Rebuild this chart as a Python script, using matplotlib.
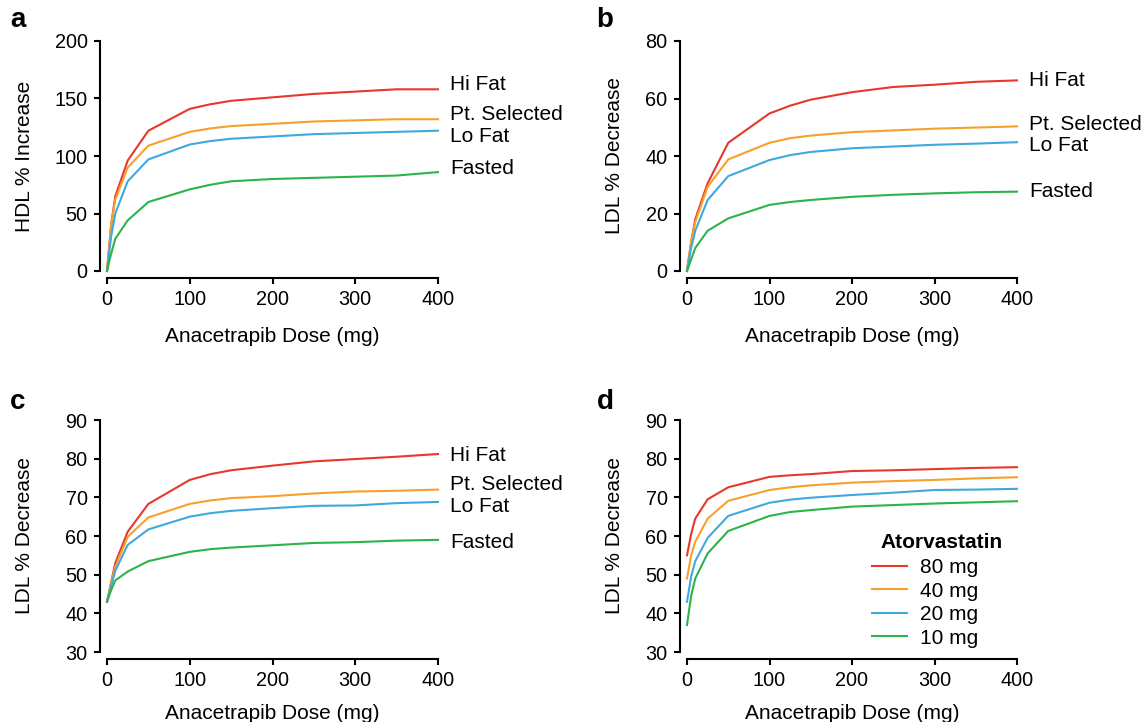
import matplotlib.pyplot as plt

# dose grid (mg)
dose = [0, 5, 10, 25, 50, 100, 125, 150, 200, 250, 300, 350, 400]

# a: HDL % increase
hdl_hi = [0, 40, 65, 96, 122, 141, 145, 148, 151, 154, 156, 158, 158]
hdl_pt = [0, 40, 62, 90, 109, 121, 124, 126, 128, 130, 131, 132, 132]
hdl_lo = [0, 30, 50, 78, 97, 110, 113, 115, 117, 119, 120, 121, 122]
hdl_fa = [0, 15, 28, 44, 60, 71, 75, 78, 80, 81, 82, 83, 86]

# b: LDL % decrease
ldl_hi = [0, 10, 18, 30.5, 44.6, 54.8, 57.5, 59.6, 62.2, 64, 64.8, 65.8, 66.3]
ldl_pt = [0, 10, 17, 29.3, 38.8, 44.6, 46.2, 47.1, 48.3, 48.9, 49.5, 49.9, 50.3]
ldl_lo = [0, 8, 14, 24.7, 33, 38.6, 40.3, 41.4, 42.7, 43.3, 43.9, 44.3, 44.8]
ldl_fa = [0, 4, 8, 14, 18.3, 23, 24, 24.7, 25.8, 26.5, 27, 27.4, 27.6]

# c: LDL % decrease (with statin baseline)
c_hi = [43, 48, 53, 61.1, 68.3, 74.5, 76, 77, 78.2, 79.3, 79.9, 80.5, 81.2]
c_pt = [43, 48, 52, 59.8, 64.8, 68.3, 69.2, 69.8, 70.3, 71, 71.5, 71.7, 72]
c_lo = [43, 47, 51, 57.7, 61.7, 65, 65.9, 66.5, 67.2, 67.8, 67.9, 68.5, 68.8]
c_fa = [43, 46, 48.5, 50.8, 53.5, 55.9, 56.6, 57, 57.6, 58.2, 58.4, 58.8, 59]

# d: LDL % decrease by atorvastatin dose
d_80 = [55, 60.5, 64.5, 69.5, 72.6, 75.3, 75.7, 76, 76.8, 77, 77.3, 77.6, 77.8]
d_40 = [49, 55, 58.5, 64.5, 69.1, 71.9, 72.6, 73.1, 73.8, 74.2, 74.5, 74.9, 75.2]
d_20 = [43, 49.5, 53.5, 59.5, 65.2, 68.6, 69.4, 69.9, 70.6, 71.2, 71.9, 72, 72.2]
d_10 = [37, 44.5, 49, 55.5, 61.3, 65.2, 66.2, 66.7, 67.6, 68, 68.4, 68.7, 69]

colors = ["#e8372b", "#f7a12b", "#3fa9dd", "#2cb34a"]
diet_labels = ["Hi Fat", "Pt. Selected", "Lo Fat", "Fasted"]
statin_labels = ["80 mg", "40 mg", "20 mg", "10 mg"]

plt.rcParams['font.family'] = ['Liberation Sans', 'DejaVu Sans']
fig = plt.figure(figsize=(11.48, 7.22), dpi=100)

W, H = 1148, 722
FS = 15
TFS = 14.3
top_pos = [(722 - 271) / H, 230 / H]
bot_pos = [(722 - 652) / H, 232 / H]
ax_a = fig.add_axes([107 / W, top_pos[0], 331 / W, top_pos[1]])
ax_b = fig.add_axes([687 / W, top_pos[0], 330 / W, top_pos[1]])
ax_c = fig.add_axes([107 / W, bot_pos[0], 331 / W, bot_pos[1]])
ax_d = fig.add_axes([687 / W, bot_pos[0], 330 / W, bot_pos[1]])


def style(ax, ylim, yticks, ylabel, ylab_x, xpad=13):
    ax.set_xlim(0, 400)
    ax.set_ylim(*ylim)
    ax.set_xticks([0, 100, 200, 300, 400])
    ax.set_yticks(yticks)
    for s in ["top", "right"]:
        ax.spines[s].set_visible(False)
    for s in ["left", "bottom"]:
        ax.spines[s].set_position(("outward", 5))
        ax.spines[s].set_linewidth(1.5)
    ax.spines["left"].set_bounds(ylim[0], ylim[1])
    ax.spines["bottom"].set_bounds(0, 400)
    ax.tick_params(width=1.5, length=4, pad=5, labelsize=TFS, direction="out")
    ax.set_xlabel("Anacetrapib Dose (mg)", fontsize=FS, labelpad=xpad)
    ax.set_ylabel(ylabel, fontsize=FS)
    ax.yaxis.set_label_coords(ylab_x, 0.5)


def diet_panel(ax, series, label_y):
    for ys, c in zip(series, colors):
        ax.plot(dose, ys, color=c, lw=1.5, clip_on=False)
    for lab, y in zip(diet_labels, label_y):
        ax.text(415, y, lab, fontsize=FS, va="center", ha="left")


diet_panel(ax_a, [hdl_hi, hdl_pt, hdl_lo, hdl_fa], [162, 136, 117, 89])
style(ax_a, (0, 200), [0, 50, 100, 150, 200], "HDL % Increase", -0.2205)

diet_panel(ax_b, [ldl_hi, ldl_pt, ldl_lo, ldl_fa], [66.4, 51, 43.8, 27.5])
style(ax_b, (0, 80), [0, 20, 40, 60, 80], "LDL % Decrease", -0.191)

diet_panel(ax_c, [c_hi, c_pt, c_lo, c_fa], [80.9, 73.4, 67.5, 58.4])
style(ax_c, (30, 90), [30, 40, 50, 60, 70, 80, 90], "LDL % Decrease", -0.2205, xpad=10)

for ys, c, lab in zip([d_80, d_40, d_20, d_10], colors, statin_labels):
    ax_d.plot(dose, ys, color=c, lw=1.5, label=lab, clip_on=False)
style(ax_d, (30, 90), [30, 40, 50, 60, 70, 80, 90], "LDL % Decrease", -0.191, xpad=10)
leg = ax_d.legend(loc="upper left", bbox_to_anchor=(872 / W, 1 - 558 / H),
                  bbox_transform=fig.transFigure, frameon=False, fontsize=FS,
                  borderpad=0, borderaxespad=0, handlelength=1.7,
                  handletextpad=0.6, labelspacing=0.22)
fig.text(942 / W, 1 - 542 / H, "Atorvastatin", fontsize=FS, fontweight="bold",
         ha="center", va="center")

for lab, (x, y) in zip("abcd", [(18, 20), (605, 20), (18, 402), (605, 402)]):
    fig.text(x / W, 1 - y / H, lab, fontsize=20, fontweight="bold",
             ha="center", va="center")

fig.savefig("out.png", dpi=100)
